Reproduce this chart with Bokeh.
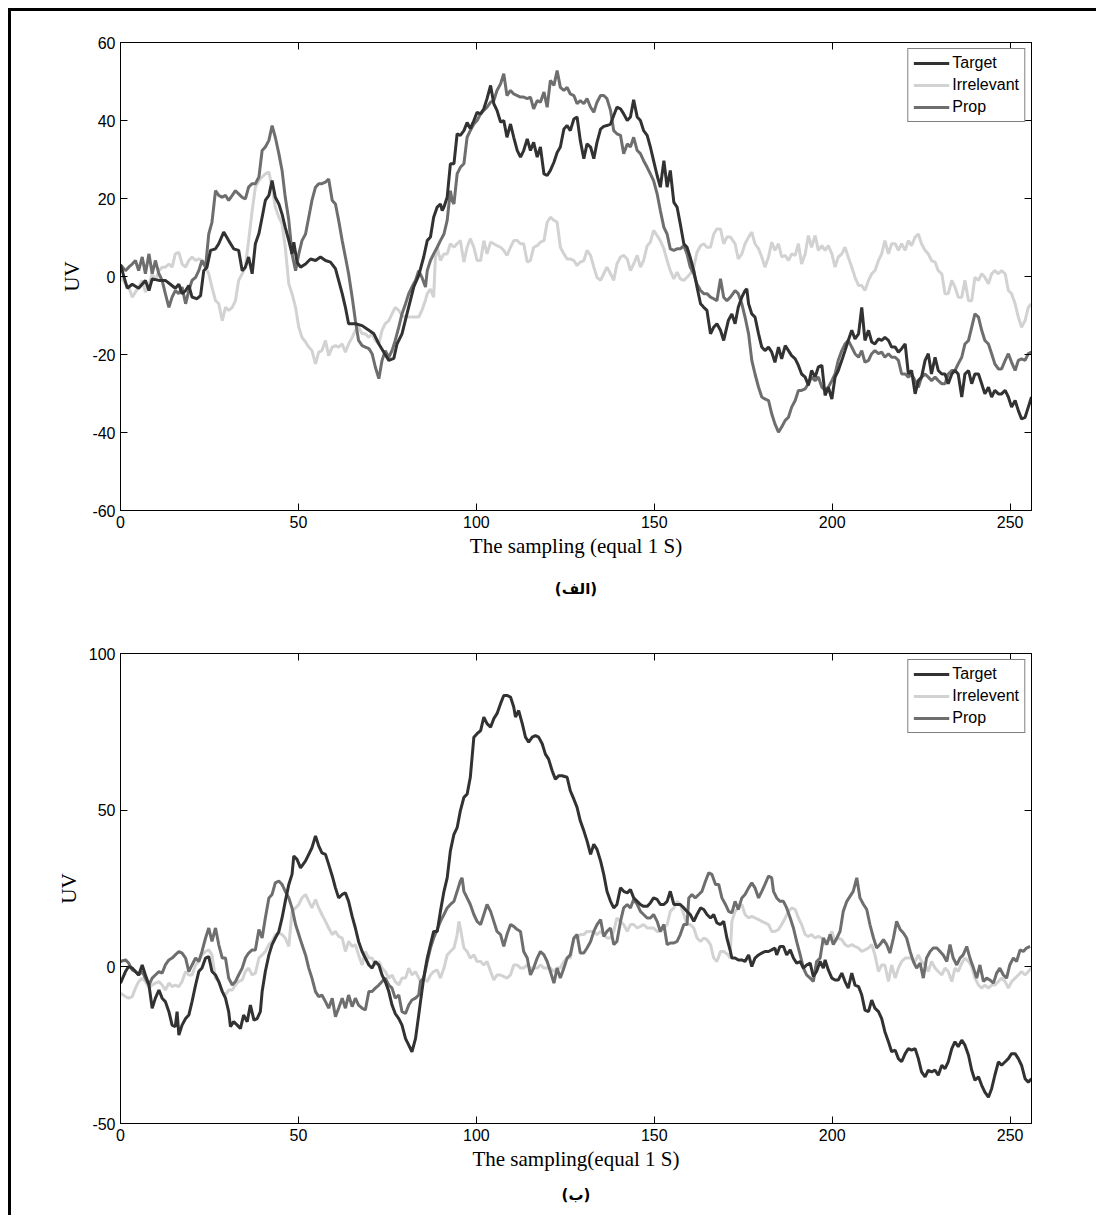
from bokeh.plotting import figure
from bokeh.models import (Range1d, LinearAxis, FixedTicker, Legend, LegendItem,
                          Title, CustomJSTickFormatter)
from bokeh.layouts import column
from bokeh.embed import file_html
from bokeh.resources import INLINE

# ---------------- data : panel (الف) ----------------
x_ticks = [0, 50, 100, 150, 200, 250]
a_y_ticks = [-60, -40, -20, 0, 20, 40, 60]
b_y_ticks = [-50, 0, 50, 100]
a_labels = ["Target", "Irrelevant", "Prop"]
b_labels = ["Target", "Irrelevent", "Prop"]

a_target_x = [
    0, 1.9, 3.3, 5.1, 7.0, 8.0, 8.9, 10.8, 12.6, 14.0,
    15.4, 16.4, 17.3, 18.3, 19.2, 20.1, 21.5, 22.5, 23.4, 24.3,
    25.3, 26.7, 27.6, 29.0, 30.4, 31.8, 33.2, 34.2, 35.1, 36.0,
    37.0, 37.9, 38.9, 39.8, 40.7, 41.7, 42.6, 43.5, 44.5, 45.4,
    46.3, 47.3, 48.2, 48.7, 49.6, 50.6, 52.0, 53.4, 54.8, 56.2,
    57.6, 59.0, 60.4, 61.3, 62.3, 63.2, 64.1, 66.0, 67.9, 69.8,
    71.2, 72.6, 74.0, 75.4, 76.8, 77.7, 79.1, 80.5, 82.4, 83.8,
    85.2, 86.2, 87.1, 88.0, 89.0, 89.9, 90.4, 90.9, 91.8, 92.7,
    93.7, 94.6, 95.5, 96.5, 97.4, 98.3, 99.3, 100.2, 101.2, 102.1,
    103.0, 104.0, 104.9, 105.8, 106.8, 107.7, 108.6, 109.6, 110.5, 111.5,
    112.4, 113.3, 114.3, 115.2, 116.1, 117.1, 118.0, 119.0, 119.9, 120.8,
    121.8, 122.7, 123.6, 124.6, 125.5, 126.4, 127.4, 128.3, 129.2, 130.2,
    131.1, 132.1, 133.0, 133.9, 134.9, 135.8, 136.7, 137.7, 138.6, 139.5,
    140.5, 141.4, 142.4, 143.3, 144.2, 145.2, 146.1, 147.0, 148.0, 148.9,
    149.8, 150.8, 151.7, 152.7, 153.6, 154.5, 155.5, 156.4, 157.3, 158.3,
    159.2, 160.1, 161.1, 162.0, 163.0, 163.9, 164.8, 165.8, 166.7, 167.6,
    168.6, 169.5, 170.8, 171.8, 172.7, 173.6, 174.6, 175.5, 176.0, 176.5,
    177.4, 178.3, 179.3, 180.2, 181.1, 182.1, 183.0, 183.9, 184.9, 185.8,
    186.8, 187.7, 188.6, 189.6, 190.5, 191.4, 192.4, 193.3, 194.2, 195.2,
    196.1, 197.1, 198.0, 198.9, 199.9, 200.8, 201.7, 202.7, 203.6, 204.5,
    205.5, 206.4, 207.4, 208.3, 209.2, 210.2, 211.1, 212.0, 213.0, 213.9,
    214.8, 215.8, 216.7, 217.7, 218.6, 219.5, 220.5, 221.4, 222.3, 223.3,
    224.2, 225.1, 226.1, 227.0, 227.9, 228.9, 229.8, 230.8, 231.7, 232.6,
    233.6, 234.5, 235.4, 236.4, 237.3, 238.3, 239.2, 240.1, 241.1, 242.0,
    242.9, 243.9, 244.8, 245.7, 246.7, 247.6, 248.6, 249.5, 250.4, 251.4,
    252.3, 253.2, 254.2, 255.1, 256.0]
a_target_y = [
    3, -3, -2, -3, -1, -3.6, -0.6, -1, -1, -2,
    -3, -2, -4.4, -3.6, -2.3, -5.3, -5.7, -4.9, 1.5, 2.4,
    6.7, 7.1, 8.4, 11.4, 9.2, 7.1, 6.7, 1.5, 2.4, 5,
    0.7, 8.4, 11, 15.2, 19.5, 20.8, 24.6, 20.3, 18.6, 16,
    12.6, 9.2, 5.8, 8.8, 3.7, 2.4, 3.2, 4.5, 4.1, 5,
    4.1, 3.7, 2, -1, -4.4, -7.9, -12.1, -12.1, -12.6, -13.8,
    -14.7, -17.3, -19.4, -21.5, -21, -17.3, -14.7, -9.6, -2.7, 0.3,
    5, 9.2, 10.1, 15.2, 17.8, 18.6, 16.9, 17.8, 20.3, 28.9,
    28.9, 36.6, 36.2, 37.4, 39.5, 37.9, 40, 42.1, 41.7, 43,
    45.6, 49, 44.3, 42.6, 39.6, 40, 35.7, 39.1, 35.7, 32.3,
    30.6, 32.3, 35.3, 32.3, 34.4, 30.6, 33.2, 26.3, 25.9, 27.2,
    29.3, 31.8, 33.2, 37.8, 38.7, 37.4, 40.4, 40.9, 34.9, 30.2,
    34.0, 33.2, 30.2, 34.4, 37.8, 38.5, 38.7, 39.1, 41.3, 43.4,
    43, 41.7, 40, 40.9, 45.3, 40.9, 40, 37.4, 36.2, 33.2,
    29.7, 25.9, 22.9, 29.7, 22.9, 27.2, 19.0, 17.8, 13.5, 8.4,
    7.5, 4.9, 1.5, -2.7, -7, -7.9, -8.7, -14.7, -13, -12.1,
    -13.8, -16.4, -11.3, -9.6, -12.1, -7.9, -5.3, -3.6, -3.2, -7,
    -9.6, -10.4, -14.7, -18.1, -19, -18.1, -19.4, -22, -18.1, -21.1,
    -17.7, -19, -20.3, -21.1, -22.8, -25, -25.8, -27.9, -24.1, -25.8,
    -23.2, -22.8, -30.5, -28.4, -31.4, -25.8, -24.1, -21.5, -19, -16.4,
    -13.8, -16, -14.7, -7.9, -16.4, -13.8, -16.8, -17.3, -16, -16.4,
    -15.6, -16.4, -18.1, -18.1, -19.4, -18.5, -17.3, -25, -24.1, -30.1,
    -26.7, -25.8, -21.5, -19.8, -25, -20.7, -24.1, -25, -25, -27.5,
    -25, -24.1, -25, -30.9, -25, -24.1, -27.5, -25, -25, -27.5,
    -30.1, -28.4, -30.9, -29.2, -30.1, -30.1, -29.2, -30.9, -33.5, -31.8,
    -34.4, -36.5, -36.1, -33.5, -30.9]

a_prop_x = [
    0, 1.4, 2.3, 3.3, 4.2, 5.1, 6.1, 7.0, 8.0, 8.9,
    9.8, 10.8, 11.7, 12.6, 13.6, 14.5, 15.4, 16.4, 17.3, 18.3,
    19.2, 20.1, 21.1, 22.0, 22.9, 23.9, 24.8, 25.7, 26.7, 27.6,
    28.6, 29.5, 30.4, 31.4, 32.3, 33.2, 34.2, 35.1, 36.0, 37.0,
    37.9, 38.9, 39.8, 40.7, 41.7, 42.6, 43.5, 44.5, 45.4, 46.3,
    47.3, 48.2, 49.2, 50.1, 51.0, 52.0, 52.9, 53.8, 54.8, 55.7,
    56.6, 57.6, 58.5, 59.5, 60.4, 61.3, 62.3, 63.2, 64.1, 65.1,
    66.0, 66.9, 67.9, 68.8, 69.8, 70.7, 71.6, 72.6, 73.5, 74.4,
    75.4, 76.3, 77.2, 78.2, 79.1, 80.1, 81.0, 81.9, 82.9, 83.8,
    84.7, 85.7, 86.2, 87.1, 88.0, 89.0, 89.9, 90.9, 91.8, 92.7,
    93.2, 93.7, 94.6, 95.5, 96.5, 97.4, 98.3, 99.3, 100.2, 101.2,
    102.1, 103.0, 104.0, 104.9, 105.8, 106.8, 107.7, 108.6, 109.6, 110.5,
    111.5, 112.4, 113.3, 114.3, 115.2, 116.1, 117.1, 118.0, 119.0, 119.9,
    120.8, 121.8, 122.7, 123.6, 124.6, 125.5, 126.4, 127.4, 128.3, 129.2,
    130.2, 131.1, 132.1, 133.0, 133.9, 134.9, 135.8, 136.7, 137.7, 138.6,
    139.5, 140.5, 141.4, 142.4, 143.3, 144.2, 145.2, 146.1, 147.0, 148.0,
    148.9, 149.8, 150.8, 151.7, 152.7, 153.6, 154.5, 155.5, 156.4, 157.3,
    158.3, 159.2, 160.1, 161.1, 162.0, 163.0, 163.9, 164.8, 165.8, 166.7,
    167.6, 168.6, 169.5, 170.4, 171.4, 172.7, 173.6, 174.6, 175.5, 176.5,
    177.4, 178.3, 179.3, 180.2, 181.1, 182.1, 183.0, 183.9, 184.9, 185.8,
    186.8, 187.7, 188.6, 189.6, 190.5, 191.4, 192.4, 193.3, 194.2, 195.2,
    196.1, 197.1, 198.0, 198.9, 199.9, 200.8, 201.7, 202.7, 203.6, 204.5,
    205.5, 206.4, 207.4, 208.3, 209.2, 210.2, 211.1, 212.0, 213.0, 213.9,
    214.8, 215.8, 216.7, 217.7, 218.6, 219.5, 220.5, 221.4, 222.3, 223.3,
    224.2, 225.1, 226.1, 227.0, 227.9, 228.9, 229.8, 230.8, 231.7, 232.6,
    233.6, 234.5, 235.4, 236.4, 237.3, 238.3, 239.2, 240.1, 241.1, 242.0,
    242.9, 243.9, 244.8, 245.7, 246.7, 247.6, 248.6, 249.5, 250.4, 251.4,
    252.3, 253.2, 254.2, 255.1, 256.0]
a_prop_y = [
    3, 1.5, 2.4, 3.2, 4.1, 1.5, 5, 0.7, 5.8, 0.7,
    4.1, 0.7, -1, -4.4, -7.9, -5.3, -3.6, -4.4, -2.7, -7,
    -3.6, -1, -0.2, 1.5, 4.1, 2.4, 10.9, 13.9, 22, 20.8,
    20.3, 20.8, 19.5, 20.8, 22, 21.2, 20.3, 19.9, 22.9, 23.8,
    23.8, 25.5, 32.3, 33.2, 34.9, 38.7, 35.7, 31.5, 27.2, 20.3,
    14.4, 5.8, 1.5, 5.8, 9.2, 10.9, 15.2, 19.5, 22.9, 23.8,
    23.8, 24.2, 25, 19.5, 18.6, 14.4, 9.2, 5, 0.7, -5.3,
    -11.3, -16.4, -17.7, -18.1, -18.5, -19.8, -23.2, -26.2, -21.5, -19,
    -20.7, -19, -16.4, -13, -9.6, -7, -4.4, -2.7, -1, 1.5,
    -0.2, -2.7, 1.5, 4.1, 5.8, 7.5, 9.2, 10.9, 14.4, 22,
    19.5, 18.6, 26.3, 28, 28.9, 35.7, 37.4, 39.1, 40, 41.7,
    42.6, 43.4, 44.7, 45.1, 47.7, 49.4, 52, 46.4, 47.7, 46.8,
    46.4, 46, 46, 45.6, 46, 43, 45.1, 44.7, 47.3, 43.4,
    50.3, 49, 52.8, 48.5, 47.7, 48.5, 46.8, 46.4, 44.3, 45.1,
    44.3, 45.6, 43.4, 42.1, 44.7, 46.4, 46.4, 45.6, 42.6, 37.4,
    36.6, 36.2, 31.5, 34, 33.2, 35.7, 32.3, 31.5, 29.7, 28,
    26.3, 24.6, 21.2, 16.9, 12.6, 10.9, 7.1, 6.7, 7.1, 7.1,
    7.9, 5.8, 2.4, 0.7, -1.9, -3.6, -4.4, -4.4, -5.3, -5.7,
    -6.2, -0.6, -5.3, -6.2, -5.3, -3.6, -4.4, -7, -10.4, -14.7,
    -21.5, -25, -28.4, -30.9, -31.4, -31.8, -35.2, -37.8, -39.9, -38.6,
    -36.9, -36.1, -33.5, -31.8, -29.2, -29.2, -28.8, -27.5, -25.8, -26.7,
    -25.8, -28.4, -29.2, -28.4, -26.7, -25, -21.5, -19, -17.3, -16.4,
    -18.1, -19.8, -20.7, -19, -22, -21.5, -19.8, -19, -19.8, -19.4,
    -20.7, -19.8, -20.7, -20.7, -21.5, -25, -25, -25.8, -25, -26.7,
    -28.4, -25.8, -25, -25.8, -26.7, -25.8, -26.7, -27.5, -27.5, -25,
    -24.1, -24.1, -22.4, -20.7, -17.3, -16.4, -13, -9.6, -10.4, -13.8,
    -16.4, -17.3, -19.8, -22.4, -23.7, -23.7, -21.5, -19.8, -22, -24.1,
    -21.5, -21.1, -21.5, -19.8, -19.4]

a_irr_x = [
    0, 1.4, 2.3, 3.3, 4.2, 5.1, 6.1, 7.0, 8.0, 8.9,
    9.8, 10.8, 11.7, 12.6, 13.6, 14.5, 15.4, 16.4, 17.3, 18.3,
    19.2, 20.1, 21.1, 22.0, 22.9, 23.9, 24.8, 25.7, 26.7, 27.6,
    28.6, 29.5, 30.4, 31.4, 32.3, 33.2, 34.2, 35.1, 36.0, 37.0,
    37.9, 38.9, 39.8, 40.7, 41.7, 42.6, 43.5, 44.5, 45.4, 46.3,
    47.3, 48.2, 49.2, 50.1, 51.0, 52.0, 52.9, 53.8, 54.8, 55.7,
    56.6, 57.6, 58.5, 59.5, 60.4, 61.3, 62.3, 63.2, 64.1, 65.1,
    66.0, 66.9, 67.9, 68.8, 69.8, 70.7, 71.6, 72.6, 73.5, 74.4,
    75.4, 76.3, 77.2, 78.2, 79.1, 80.1, 81.0, 81.9, 82.9, 83.8,
    84.7, 85.7, 86.2, 87.1, 88.0, 88.5, 89.0, 89.9, 90.9, 91.8,
    92.7, 93.7, 94.6, 95.5, 96.5, 97.4, 98.3, 99.3, 100.2, 101.2,
    102.1, 103.0, 104.0, 104.9, 105.8, 106.8, 107.7, 108.6, 109.6, 110.5,
    111.5, 112.4, 113.3, 114.3, 115.2, 116.1, 117.1, 118.0, 119.0, 119.9,
    120.8, 121.8, 122.7, 123.6, 124.6, 125.5, 126.4, 127.4, 128.3, 129.2,
    130.2, 131.1, 132.1, 133.0, 133.9, 134.9, 135.8, 136.7, 137.7, 138.6,
    139.5, 140.5, 141.4, 142.4, 143.3, 144.2, 145.2, 146.1, 147.0, 148.0,
    148.9, 149.8, 150.8, 151.7, 152.7, 153.6, 154.5, 155.5, 156.4, 157.3,
    158.3, 159.2, 160.1, 161.1, 162.0, 163.0, 163.9, 164.8, 165.8, 166.7,
    167.6, 168.6, 169.5, 170.4, 171.4, 172.7, 173.6, 174.6, 175.5, 176.5,
    177.4, 178.3, 179.3, 180.2, 181.1, 182.1, 183.0, 183.9, 184.9, 185.8,
    186.8, 187.7, 188.6, 189.6, 190.5, 191.4, 192.4, 193.3, 194.2, 195.2,
    196.1, 197.1, 198.0, 198.9, 199.9, 200.8, 201.7, 202.7, 203.6, 204.5,
    205.5, 206.4, 207.4, 208.3, 209.2, 210.2, 211.1, 212.0, 213.0, 213.9,
    214.8, 215.8, 216.7, 217.7, 218.6, 219.5, 220.5, 221.4, 222.3, 223.3,
    224.2, 225.1, 226.1, 227.0, 227.9, 228.9, 229.8, 230.8, 231.7, 232.6,
    233.6, 234.5, 235.4, 236.4, 237.3, 238.3, 239.2, 240.1, 241.1, 242.0,
    242.9, 243.9, 244.8, 245.7, 246.7, 247.6, 248.6, 249.5, 250.4, 251.4,
    252.3, 253.2, 254.2, 255.1, 256.0]
a_irr_y = [
    -0.2, -1.9, -2.7, -5.3, -4, -2.7, -1, -4, -2.3, 0.7,
    -1, 1.5, 2.4, 2.4, 3.2, 2.4, 5.8, 6.2, 3.2, 2.4,
    4.1, 5, 4.1, 4.5, 4.1, 2.4, 0.7, -2.7, -6.2, -7,
    -11.3, -7.9, -8.7, -7.9, -6.2, -1, 0.7, 2.4, 9.2, 16.9,
    22.9, 24.6, 25.5, 26.3, 26.8, 22.9, 17.8, 15.2, 13.5, 7.5,
    -1.9, -4.4, -7.9, -13, -15.6, -16.8, -18.1, -19, -22.4, -19.4,
    -19, -16.4, -20.3, -18.1, -17.7, -18.1, -17.3, -19.4, -17.3, -15.6,
    -13.8, -13, -14.7, -14.7, -15.6, -14.7, -16.4, -17.3, -13.8, -12.1,
    -11.3, -9.6, -7.9, -8.7, -10, -10.4, -10.4, -10.4, -10.4, -10.4,
    -8.7, -6, -4.4, -3.2, -5.3, 5, 7.5, 4.1, 5.8, 5.8,
    8.4, 7.5, 8.4, 9.2, 3.7, 7.5, 9.7, 7.5, 4.1, 4.1,
    9.2, 5.8, 8.8, 8.4, 7.9, 7.5, 6.7, 5.4, 7.5, 9.2,
    9.2, 8.4, 8.4, 3.7, 4.1, 7.5, 7.9, 8.8, 9.2, 13.9,
    15.2, 14.4, 13.9, 7.5, 5.8, 4.5, 4.5, 4.1, 2.8, 3.7,
    4.1, 6.7, 5.4, 2.4, -0.2, -1, 0.7, 2.4, 0.7, -1,
    3.2, 5, 5.4, 4.5, 1.5, 3.2, 5.4, 2.4, 4.1, 7.9,
    8.8, 11.8, 10.5, 9.2, 7.1, 4.1, 1.5, -0.6, 1.1, -0.6,
    -1, -0.2, 0.7, 2.4, 6.2, 7.9, 8.4, 7.5, 7.5, 10.9,
    12.2, 12.2, 8.4, 10.1, 10.1, 8.4, 4.5, 5.8, 8.4, 10.1,
    11.4, 8.4, 7.1, 5, 2.4, 5, 8.8, 6.7, 8.4, 5,
    5.4, 4.1, 5.8, 5.4, 8.4, 3.2, 5.8, 10.5, 7.5, 10.5,
    6.7, 7.9, 6.7, 7.9, 5.8, 2.4, 5, 5.8, 7.5, 5,
    2.4, -0.2, -2.3, -2.3, -3.6, -1, 0.7, 1.5, 4.1, 5.8,
    9.2, 5.8, 8.4, 8.4, 6.7, 8.4, 6.7, 9.2, 7.9, 10.1,
    10.9, 8.4, 6.7, 5.8, 4.1, 3.7, 1.5, 0.7, -4.4, -4.4,
    -1, -2.7, -5.3, -5.3, -1, -6.2, -6.2, -0.2, -1, 0.7,
    -0.2, -1.9, 0.7, 1.5, 0.7, 1.5, 0.7, -3.6, -4.4, -7,
    -10.4, -13, -11.3, -7.9, -7]

# ---------------- data : panel (ب) ----------------
b_target_x = [
    0, 1.4, 2.3, 3.3, 4.2, 5.1, 6.1, 7.0, 8.0, 8.9,
    9.8, 10.8, 11.7, 12.6, 13.6, 14.5, 15.4, 15.9, 16.4, 17.3,
    18.3, 19.2, 20.1, 21.1, 22.0, 22.9, 23.9, 24.8, 25.7, 26.7,
    27.6, 28.6, 29.5, 30.4, 30.9, 31.8, 32.8, 33.7, 34.6, 35.6,
    36.5, 37.5, 38.4, 39.3, 39.8, 40.7, 41.7, 42.6, 43.5, 44.5,
    45.4, 46.3, 47.3, 48.2, 48.7, 49.6, 50.6, 52.0, 52.9, 53.8,
    54.8, 55.7, 56.6, 57.6, 58.5, 59.5, 60.4, 61.3, 62.3, 63.2,
    64.1, 65.1, 66.0, 66.9, 67.9, 68.8, 69.8, 70.7, 71.6, 72.6,
    73.5, 74.4, 75.4, 76.3, 77.2, 78.2, 79.1, 80.1, 81.0, 81.9,
    82.9, 83.8, 84.3, 85.2, 86.2, 87.1, 88.0, 89.0, 89.9, 90.9,
    91.8, 92.7, 93.7, 94.6, 95.5, 96.5, 97.4, 98.3, 99.3, 100.2,
    101.2, 102.1, 103.0, 104.0, 104.9, 105.8, 106.8, 107.7, 108.6, 109.6,
    110.5, 111.0, 111.9, 112.9, 113.8, 114.7, 115.7, 116.6, 117.5, 118.5,
    119.4, 120.3, 121.3, 122.2, 123.2, 124.1, 125.5, 126.4, 127.4, 128.3,
    129.2, 130.2, 131.1, 132.1, 133.0, 133.9, 134.9, 135.8, 136.7, 137.7,
    138.6, 139.5, 140.5, 141.4, 142.4, 143.3, 144.2, 145.2, 146.1, 147.0,
    148.0, 148.9, 149.8, 150.8, 151.7, 152.7, 153.6, 154.5, 155.5, 156.4,
    157.3, 158.3, 159.2, 160.1, 161.1, 162.0, 163.0, 163.9, 164.8, 165.8,
    166.7, 167.6, 168.6, 169.5, 170.4, 171.4, 171.8, 172.7, 173.6, 174.6,
    175.5, 176.5, 177.4, 178.3, 179.3, 180.2, 181.1, 182.1, 183.0, 183.9,
    184.4, 185.3, 186.3, 187.2, 188.2, 189.1, 190.0, 191.0, 191.9, 192.8,
    193.8, 194.7, 195.6, 196.6, 197.5, 198.0, 198.9, 199.9, 200.8, 201.7,
    202.7, 203.6, 204.5, 205.5, 206.4, 207.4, 208.3, 209.2, 210.2, 211.1,
    212.0, 213.0, 213.9, 214.8, 215.8, 216.7, 217.7, 218.6, 219.5, 220.5,
    221.4, 222.3, 223.3, 224.2, 225.1, 226.1, 227.0, 227.9, 228.9, 229.8,
    230.8, 231.7, 232.6, 233.6, 234.5, 235.4, 236.4, 237.3, 238.3, 239.2,
    240.1, 241.1, 242.0, 242.9, 243.9, 244.8, 245.7, 246.7, 247.6, 248.6,
    249.5, 250.4, 251.4, 252.3, 253.2, 254.2, 255.1, 256.0]
b_target_y = [
    -5.2, -1.5, 0.1, -0.4, -1.5, -2.6, 0.6, -2.6, -5.8, -13.2,
    -10, -7.4, -10, -11.1, -14.3, -18.6, -19.1, -14.3, -21.8, -18.6,
    -16.5, -15.4, -11.1, -5.8, -1.5, -0.4, 2.8, 3.3, -1.5, -2.6,
    -4.7, -7.9, -10, -14.3, -19.1, -17.5, -18.6, -19.7, -15.4, -17.5,
    -12.2, -17, -16.5, -14.3, -7.9, -1.5, 3.8, 7.1, 9.2, 11.3,
    15.6, 20.9, 26.3, 29.5, 35.4, 34.3, 31.6, 33.8, 35.9, 38,
    41.8, 38.6, 36.4, 35.9, 32.7, 29, 25.2, 22, 23.1, 23.6,
    20.9, 16.1, 12.4, 8.1, 4.9, 2.8, 0.6, -0.4, 1.7, 0.6,
    -2.6, -4.7, -7.9, -12.2, -14.9, -16.5, -18.6, -22.9, -25, -27.1,
    -22.9, -15.4, -11.1, -3.6, 2.8, 7.1, 11.3, 11.3, 17.7, 24.1,
    28.4, 37, 42.3, 44.4, 49.8, 54.1, 55.1, 60.5, 73.3, 74.4,
    75.4, 79.7, 77.6, 76.5, 79.2, 80.8, 84, 86.6, 86.6, 86.1,
    82.9, 79.7, 81.8, 77.6, 73.3, 71.7, 73.3, 73.8, 73.3, 71.2,
    67.9, 66.3, 62.6, 59.9, 61, 61, 60.5, 56.2, 53.5, 50.9,
    46.6, 43.4, 40.2, 35.9, 39.1, 37.5, 33.8, 29.5, 24.1, 20.9,
    18.8, 19.9, 25.2, 24.1, 23.6, 24.7, 22, 20.9, 19.9, 19.3,
    19.3, 20.4, 22, 21.5, 19.9, 19.9, 20.9, 24.1, 19.9, 19.9,
    19.9, 18.8, 17.7, 16.7, 14.5, 16.7, 18.8, 18.3, 16.7, 15.6,
    16.7, 14, 13.5, 14.5, 9.2, 4.9, 2.8, 2.8, 2.2, 2.2,
    1.7, 3.8, 0.1, 2.8, 3.8, 4.4, 4.9, 4.9, 5.4, 6,
    3.8, 6.5, 6.5, 3.8, 5.4, 2.8, 1.2, 1.7, -0.4, 0.6,
    1.2, -3.1, -1.5, 1.7, -0.4, 2.2, -1, -3.6, -4.2, -4.2,
    -2, -4.7, -6.8, -2, -5.8, -6.3, -9, -13.8, -14.3, -10.6,
    -13.2, -14.3, -16.5, -20.7, -23.9, -27.1, -26.6, -29.3, -30.3, -27.7,
    -26.1, -26.6, -26.1, -29.3, -33.5, -35.1, -33, -33.5, -33, -34.6,
    -31.4, -32.5, -30.3, -26.1, -23.9, -25.5, -23.4, -25, -28.2, -33,
    -36.2, -35.1, -37.8, -40, -41.6, -38.9, -34.6, -30.3, -31.4, -30.3,
    -29.3, -27.7, -27.7, -29.3, -31.4, -35.7, -36.8, -35.7]

b_prop_x = [
    0, 1.4, 2.3, 3.3, 4.2, 5.1, 6.1, 7.0, 8.0, 8.9,
    9.8, 10.8, 11.7, 12.6, 13.6, 14.5, 15.4, 16.4, 17.3, 18.3,
    19.2, 20.1, 21.1, 22.0, 22.9, 23.9, 24.8, 25.7, 26.7, 27.6,
    28.6, 29.5, 30.4, 31.4, 32.3, 33.2, 34.2, 35.1, 36.0, 37.0,
    37.9, 38.9, 39.8, 40.7, 41.7, 42.6, 43.5, 44.5, 45.4, 46.3,
    47.3, 48.2, 49.2, 50.1, 51.0, 52.0, 52.9, 53.8, 54.8, 55.7,
    56.6, 57.6, 58.5, 59.5, 60.4, 61.3, 62.3, 63.2, 64.1, 65.1,
    66.0, 66.9, 67.9, 68.8, 69.8, 70.7, 71.6, 72.6, 73.5, 74.4,
    75.4, 76.3, 77.2, 78.2, 79.1, 80.1, 81.0, 81.9, 82.9, 83.8,
    84.3, 85.2, 86.2, 87.1, 88.0, 89.0, 89.9, 90.9, 91.8, 92.7,
    93.7, 94.6, 95.5, 96.0, 96.5, 97.4, 98.3, 99.3, 100.2, 101.2,
    102.1, 103.0, 104.0, 104.9, 105.8, 106.8, 107.7, 108.6, 109.6, 110.5,
    111.5, 112.4, 113.3, 114.3, 115.2, 116.1, 117.1, 118.0, 119.0, 119.9,
    120.8, 121.8, 122.7, 123.6, 124.6, 125.5, 126.4, 127.4, 128.3, 129.2,
    130.2, 131.1, 132.1, 133.0, 133.9, 134.9, 135.8, 136.7, 137.7, 138.6,
    139.5, 140.5, 141.4, 142.4, 143.3, 144.2, 145.2, 146.1, 147.0, 148.0,
    148.9, 149.8, 150.8, 151.7, 152.7, 153.6, 154.5, 155.5, 156.4, 157.3,
    158.3, 159.2, 159.7, 160.6, 161.5, 162.5, 163.4, 164.4, 165.3, 166.2,
    167.2, 168.1, 169.0, 170.0, 170.9, 171.8, 172.7, 173.6, 174.6, 175.5,
    176.5, 177.4, 178.3, 179.3, 180.2, 181.1, 182.1, 183.0, 183.5, 184.4,
    185.3, 186.3, 187.2, 188.2, 189.1, 190.0, 191.0, 191.9, 192.8, 193.8,
    194.7, 195.6, 196.6, 197.5, 198.5, 199.4, 200.3, 201.3, 202.2, 203.1,
    204.1, 205.0, 205.9, 206.9, 207.8, 208.8, 209.7, 210.6, 211.6, 212.5,
    213.4, 214.4, 215.3, 216.2, 217.2, 218.1, 219.1, 220.0, 220.9, 221.9,
    222.8, 223.7, 224.7, 225.6, 226.5, 227.5, 228.4, 229.4, 230.3, 231.2,
    232.2, 233.1, 234.0, 235.0, 235.9, 236.8, 237.8, 238.7, 239.7, 240.6,
    241.5, 242.5, 243.4, 244.3, 245.3, 246.2, 247.1, 248.1, 249.0, 249.9,
    250.9, 251.8, 252.8, 253.7, 254.6, 255.6]
b_prop_y = [
    1.7, 2.2, 1.2, -1, -1.5, -2.6, -1.5, -3.6, -5.8, -3.6,
    -2.6, -1.5, -2, 0.6, 2.2, 2.8, 3.8, 4.9, 4.4, 2.8,
    -1.5, 0.6, 2.8, 1.7, 4.9, 9.2, 12.4, 8.1, 12.4, 7.1,
    2.8, 2.8, -3.6, -5.8, -4.7, -2.6, -0.4, 2.8, 4.4, 5.4,
    5.4, 11.9, 9.2, 15.6, 22, 23.1, 26.8, 27.4, 26.3, 24.1,
    22, 18.8, 13.5, 10.3, 7.1, 3.8, -0.4, -3.6, -7.9, -9.5,
    -9, -11.1, -13.2, -10, -15.9, -13.2, -10, -13.2, -9, -12.7,
    -10, -12.2, -13.2, -13.8, -7.9, -7.9, -6.8, -5.8, -4.7, -3.6,
    -5.8, -6.8, -10, -9, -14.3, -14.9, -12.2, -10.6, -10, -9,
    -4.7, -3.6, 1.7, 6, 9.2, 11.9, 14.5, 16.7, 18.8, 19.9,
    20.9, 24.1, 27.4, 28.4, 24.1, 22, 19.9, 16.7, 14.5, 13.5,
    16.7, 19.9, 17.7, 14.5, 11.3, 10.3, 6.5, 10.3, 13.5, 12.9,
    11.9, 11.3, 4.9, 2.8, -2.6, -0.4, 2.8, 4.9, 3.8, 1.7,
    -1.5, -5.2, -0.4, -3.6, -0.4, 2.8, 3.8, 9.2, 10.3, 4.4,
    4.4, 6, 8.1, 11.3, 13.5, 15.1, 9.7, 11.3, 12.4, 7.1,
    8.1, 14.5, 18.8, 19.9, 18.8, 21.5, 19.9, 17.7, 16.7, 15.6,
    15.6, 16.7, 14.5, 11.3, 13.5, 7.1, 7.6, 7.6, 8.1, 10.3,
    13.5, 13.5, 22, 23.1, 22, 23.1, 24.1, 27.4, 30, 29.5,
    26.3, 26.3, 22, 19.9, 17.7, 17.2, 20.9, 18.3, 22, 23.1,
    25.2, 26.8, 25.2, 22, 24.1, 26.3, 29, 28.4, 24.1, 22,
    20.9, 20.9, 18.8, 15.6, 12.4, 8.1, 3.8, -0.4, -2.6, -3.6,
    -4.7, 1.7, 2.8, 9.2, 7.1, 10.3, 7.1, 9.2, 11.3, 17.7,
    20.9, 22.5, 24.1, 28.4, 22, 19.9, 18.3, 13.5, 9.2, 6,
    7.1, 8.7, 7.1, 4.4, 9.2, 14.5, 11.9, 10.8, 9.2, 4.9,
    1.7, -0.4, 1.2, -3.6, 2.8, 4.9, 6, 6, 4.9, 3.8,
    1.7, 7.1, 2.8, 0.6, 2.8, 3.8, 6.5, 2.8, -0.4, -3.6,
    0.6, -4.7, -3.6, -4.2, -5.2, -2, -0.4, -2.6, -3.6, 0.6,
    2.8, 1.7, 5.4, 4.9, 6, 6.5]

b_irr_x = [
    0, 1.4, 2.3, 3.3, 4.2, 5.1, 6.1, 7.0, 8.0, 8.9,
    9.8, 10.8, 11.7, 12.6, 13.6, 14.5, 15.4, 16.4, 17.3, 18.3,
    19.2, 20.1, 21.1, 22.0, 22.9, 23.9, 24.8, 25.7, 26.7, 27.6,
    28.6, 29.5, 30.4, 31.4, 32.3, 33.2, 34.2, 35.1, 36.0, 37.0,
    37.9, 38.9, 39.8, 40.7, 41.7, 42.6, 43.5, 44.5, 45.4, 46.3,
    47.3, 48.2, 49.2, 50.1, 51.0, 52.0, 52.9, 53.8, 54.8, 55.7,
    56.6, 57.6, 58.5, 59.5, 60.4, 61.3, 62.3, 63.2, 64.1, 65.1,
    66.0, 66.9, 67.9, 68.8, 69.8, 70.7, 71.6, 72.6, 73.5, 74.4,
    75.4, 76.3, 77.2, 78.2, 79.1, 80.1, 81.0, 81.9, 82.9, 83.8,
    84.3, 85.2, 86.2, 87.1, 88.0, 89.0, 89.9, 90.9, 91.8, 92.7,
    93.7, 94.6, 95.1, 95.5, 96.5, 97.4, 98.3, 99.3, 100.2, 101.2,
    102.1, 103.0, 104.0, 104.9, 105.8, 106.8, 107.7, 108.6, 109.6, 110.5,
    111.5, 112.4, 113.3, 114.3, 115.2, 116.1, 117.1, 118.0, 119.0, 119.9,
    120.8, 121.8, 122.7, 123.6, 124.6, 125.5, 126.4, 127.4, 128.3, 129.2,
    130.2, 131.1, 132.1, 133.0, 133.9, 134.9, 135.8, 136.7, 137.7, 138.6,
    139.5, 140.5, 141.4, 142.4, 143.3, 144.2, 145.2, 146.1, 147.0, 148.0,
    148.9, 149.8, 150.8, 151.7, 152.7, 153.6, 154.5, 155.5, 156.4, 157.3,
    158.3, 159.2, 160.1, 161.1, 162.0, 163.0, 163.9, 164.8, 165.8, 166.7,
    167.6, 168.6, 169.5, 170.8, 171.3, 171.8, 172.7, 173.6, 174.6, 175.5,
    176.5, 177.4, 178.3, 179.3, 180.2, 181.1, 182.1, 183.0, 183.9, 184.9,
    185.8, 186.8, 187.7, 188.6, 189.6, 190.5, 191.4, 192.4, 193.3, 194.2,
    195.2, 196.1, 197.1, 198.0, 198.9, 199.9, 200.8, 201.7, 202.7, 203.6,
    204.5, 205.5, 206.4, 207.4, 208.3, 209.2, 210.2, 211.1, 212.0, 213.0,
    213.9, 214.8, 215.8, 216.7, 217.7, 218.6, 219.5, 220.5, 221.4, 222.3,
    223.3, 224.2, 225.1, 226.1, 227.0, 227.9, 228.9, 229.8, 230.8, 231.7,
    232.6, 233.6, 234.5, 235.4, 236.4, 237.3, 238.3, 239.2, 240.1, 241.1,
    242.0, 242.9, 243.9, 244.8, 245.7, 246.7, 247.6, 248.6, 249.5, 250.4,
    251.4, 252.3, 253.2, 254.2, 255.1, 256.0]
b_irr_y = [
    -8.4, -9.5, -10, -9.5, -6.8, -4.7, -3.6, -4.7, -6.8, -5.8,
    -5.2, -4.7, -5.8, -7.4, -5.2, -6.3, -5.8, -6.3, -4.7, -1.5,
    -2.6, -2.6, 0.6, 1.7, 3.8, 4.9, 5.4, 3.8, -3.6, -4.7,
    -7.9, -9, -7.4, -7.4, -5.8, -4.7, -4.2, -1.5, -0.4, -2.6,
    -2, 2.8, 3.8, 4.9, 7.1, 8.1, 10.3, 10.8, 10.3, 9.2,
    6.5, 17.7, 18.8, 19.9, 22, 23.1, 20.9, 18.8, 21.5, 18.8,
    16.7, 14.5, 12.4, 10.3, 11.3, 9.7, 9.2, 4.9, 8.1, 6.5,
    7.1, 3.8, 0.6, 4.9, 2.8, 2.8, 0.6, 1.7, -0.4, -1.5,
    -3.6, -2.6, -4.7, -5.8, -3.6, -3.6, -0.4, -2.6, -1.5, -3.6,
    -4.7, -3.6, -4.7, -2.6, -1.5, -1, -3.6, -0.4, 3.8, 4.9,
    6, 10.3, 14.5, 12.4, 6, 4.9, 2.8, 3.8, 1.7, 1.7,
    0.6, 1.7, -1.5, -4.2, -2.6, -2.6, -3.1, -3.6, -2.6, 0.6,
    0.6, -0.4, -0.4, 0.6, -0.4, -0.4, -0.4, 0.6, -0.4, -0.4,
    -0.4, -1.5, -0.4, -0.4, 1.7, 2.8, 2.8, 9.2, 9.2, 10.3,
    10.3, 11.3, 11.3, 11.3, 10.3, 11.3, 10.3, 9.2, 9.2, 11.3,
    15.6, 14.5, 13.5, 11.3, 13.5, 13.5, 12.4, 12.9, 13.5, 12.4,
    12.4, 12.4, 11.3, 11.3, 12.4, 13.5, 17.7, 18.8, 20.9, 19.9,
    16.7, 13.5, 13.5, 12.4, 9.2, 8.1, 9.2, 8.7, 7.1, 2.8,
    1.7, 4.9, 4.9, 3.8, 2.8, 14.5, 17.7, 18.8, 19.9, 16.7,
    15.6, 16.1, 15.6, 15.1, 14.5, 14, 13.5, 11.3, 11.3, 11.9,
    13.5, 15.6, 17.7, 18.8, 18.3, 15.6, 13.5, 10.3, 9.7, 10.3,
    9.2, 9.7, 9.2, 7.1, 8.7, 11.3, 8.1, 9.2, 8.7, 7.1,
    6.5, 7.1, 6.5, 6, 4.9, 5.4, 6, 7.1, 3.8, -1.5,
    0.6, 0.6, -4.7, 0.6, -3.6, -0.4, 1.7, 2.8, 2.8, 2.8,
    1.7, 3.8, 1.7, 0.6, -1.5, 1.7, -0.4, -1.5, -2.6, -0.4,
    -1.5, -4.7, -0.4, -1.5, 1.2, 2.8, 1.7, 0.1, -3.6, -5.8,
    -6.8, -5.8, -6.8, -5.8, -5.8, -4.7, -3.6, -4.7, -6.8, -4.7,
    -3.6, -2.6, -1.5, -2.6, -1.5, -0.4]

# ---------------- styling ----------------
C_TARGET = "#323232"
C_IRR = "#d2d2d2"
C_PROP = "#6e6e6e"
TICK_FONT = "Liberation Sans"
LABEL_FONT = "Liberation Serif"


def style_axis(ax, show_labels=True):
    ax.major_tick_in = 7
    ax.major_tick_out = 0
    ax.minor_tick_line_color = None
    ax.axis_line_color = "black"
    ax.axis_line_width = 1
    ax.major_tick_line_color = "black"
    ax.major_label_text_font = TICK_FONT
    ax.major_label_text_font_size = "16px"
    ax.major_label_text_color = "black"
    ax.major_label_standoff = 5
    if show_labels:
        ax.formatter = CustomJSTickFormatter(code="return tick.toString();")
    else:
        ax.formatter = CustomJSTickFormatter(code="return '';")
        ax.major_label_standoff = 0


def panel(height, top, bottom, y_lo, y_hi, y_ticks, series, labels, xlabel, caption, cap_standoff):
    p = figure(width=1085, height=height,
               x_range=Range1d(0, 256), y_range=Range1d(y_lo, y_hi),
               output_backend="svg", toolbar_location=None,
               min_border_left=109, min_border_right=65,
               min_border_top=top, min_border_bottom=bottom)
    p.grid.visible = False
    p.outline_line_color = "black"
    p.background_fill_color = "white"
    p.border_fill_color = "white"

    p.xaxis.ticker = FixedTicker(ticks=x_ticks)
    p.yaxis.ticker = FixedTicker(ticks=y_ticks)
    style_axis(p.xaxis[0])
    style_axis(p.yaxis[0])
    p.xaxis.axis_label = xlabel
    p.yaxis.axis_label = "UV"
    for ax in (p.xaxis[0], p.yaxis[0]):
        ax.axis_label_text_font = LABEL_FONT
        ax.axis_label_text_font_size = "21px"
        ax.axis_label_text_font_style = "normal"
        ax.axis_label_text_color = "black"
    p.xaxis.axis_label_standoff = 3
    p.yaxis.axis_label_standoff = 5

    rax = LinearAxis(ticker=FixedTicker(ticks=y_ticks))
    style_axis(rax, show_labels=False)
    p.add_layout(rax, "right")
    tax = LinearAxis(ticker=FixedTicker(ticks=x_ticks))
    style_axis(tax, show_labels=False)
    p.add_layout(tax, "above")

    colors = [C_TARGET, C_IRR, C_PROP]
    rmap = {}
    for i in [1, 2, 0]:
        xs, ys = series[i]
        rmap[i] = p.line(xs, ys, line_color=colors[i], line_width=3)

    legend = Legend(items=[LegendItem(label=labels[i], renderers=[rmap[i]]) for i in range(3)],
                    location="top_right")
    legend.border_line_color = "black"
    legend.border_line_width = 1
    legend.background_fill_color = "white"
    legend.background_fill_alpha = 1.0
    legend.label_text_font = TICK_FONT
    legend.label_text_font_size = "16px"
    legend.label_text_color = "black"
    legend.glyph_width = 36
    legend.glyph_height = 18
    legend.label_height = 18
    legend.label_standoff = 3
    legend.spacing = 4
    legend.padding = 5
    legend.margin = 6
    p.add_layout(legend, "center")

    cap = Title(text=caption, align="center", text_font="DejaVu Sans",
                text_font_size="15px", text_font_style="bold",
                text_color="black", standoff=cap_standoff)
    p.add_layout(cap, "below")
    return p


p1 = panel(617, 31, 118, -60, 60, a_y_ticks,
           [(a_target_x, a_target_y), (a_irr_x, a_irr_y), (a_prop_x, a_prop_y)],
           a_labels, "The sampling (equal 1 S)", "(الف)", 34)
p2 = panel(587, 25, 92, -50, 100, b_y_ticks,
           [(b_target_x, b_target_y), (b_irr_x, b_irr_y), (b_prop_x, b_prop_y)],
           b_labels, "The sampling(equal 1 S)", "(ب)", 21)

layout = column(p1, p2, styles={"border-left": "3px solid black",
                                "border-top": "3px solid black",
                                "margin-left": "8px",
                                "margin-top": "8px",
                                "background-color": "white"})

open("out.html", "w").write(file_html(layout, INLINE))
